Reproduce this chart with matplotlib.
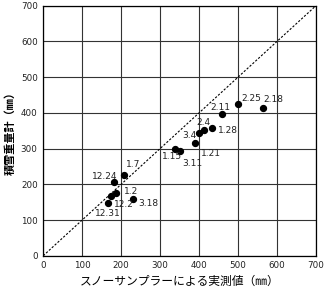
import matplotlib
matplotlib.use('Agg')
import matplotlib.pyplot as plt

# Measured snow depth (snow sampler) vs snow weight gauge, mm
labels = ['2.25', '2.18', '2.11', '1.28', '2.4', '3.4', '1.21', '1.15', '3.11',
          '1.7', '12.24', '1.2', '12.2', '3.18', '12.31']
sampler = [499, 565, 458, 434, 413, 400, 390, 339, 352,
           208, 182, 186, 173, 231, 167]
gauge = [425, 413, 396, 357, 352, 343, 315, 300, 294,
         226, 206, 176, 168, 158, 147]

# label offsets in pixels (dx right, dy down)
offsets = [(14, -5), (10, -9), (-1, -7), (16, 2), (-1, -8), (-10, 2), (16, 10),
           (-3, 8), (12, 13), (9, -11), (-9, -6), (15, -1), (13, 9), (15, 4), (0, 10)]

ticks = [0, 100, 200, 300, 400, 500, 600, 700]

plt.rcParams['font.family'] = ['Noto Sans CJK JP', 'DejaVu Sans']

fig = plt.figure(figsize=(3.25, 3.03), dpi=100)
ax = fig.add_axes([0.133, 0.156, 0.839, 0.825])

ax.plot([0, 700], [0, 700], color='black', linestyle=(0, (2, 1.5)), linewidth=0.8, zorder=2)
ax.scatter(sampler, gauge, s=18, color='black', zorder=3)

for lab, x, y, (dx, dy) in zip(labels, sampler, gauge, offsets):
    ax.annotate(lab, (x, y), xytext=(dx * 0.72, -dy * 0.72), textcoords='offset points',
                ha='center', va='center', fontsize=6.5, family='DejaVu Sans', color='#222222')

ax.set_xlim(0, 700)
ax.set_ylim(0, 700)
ax.set_xticks(ticks)
ax.set_yticks(ticks)
ax.tick_params(length=0, labelsize=6.3, pad=4, colors='#222222')
for lbl in ax.get_xticklabels() + ax.get_yticklabels():
    lbl.set_family('DejaVu Sans')
ax.grid(True, color='#333333', linewidth=0.8)
ax.set_axisbelow(True)
for sp in ax.spines.values():
    sp.set_color('black')
    sp.set_linewidth(0.9)

ax.set_xlabel('スノーサンプラーによる実測値（㎜）', fontsize=8.5, labelpad=3)
ax.set_ylabel('積雪重量計（㎜）', fontsize=8, fontweight='bold', labelpad=3)

fig.savefig('out.png', dpi=100)
